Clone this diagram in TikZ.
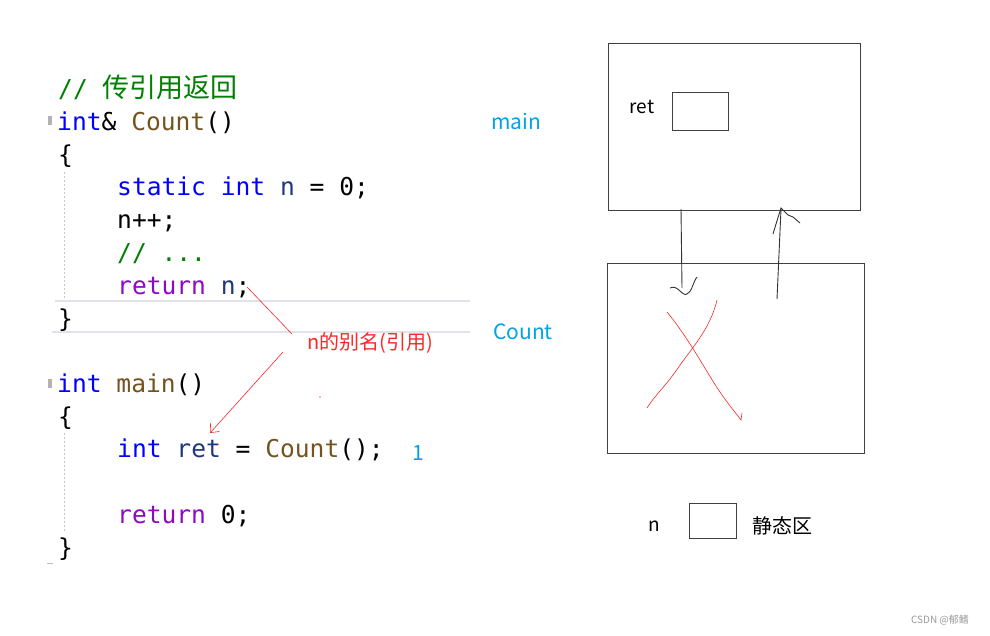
\documentclass[tikz,border=0pt]{standalone}
\usepackage{fontspec}
\setmonofont{DejaVu Sans Mono}
\newfontfamily\cjk{Noto Sans CJK SC}
\usepackage{tikz}
\usetikzlibrary{arrows.meta}

\definecolor{kwblue}{RGB}{0,0,255}
\definecolor{fnbrown}{RGB}{116,83,31}
\definecolor{varblue}{RGB}{31,55,127}
\definecolor{retpurple}{RGB}{143,8,196}
\definecolor{cmtgreen}{RGB}{0,128,0}
\definecolor{tagblue}{RGB}{0,162,232}
\definecolor{notered}{RGB}{250,40,40}
\definecolor{hlgray}{RGB}{226,226,236}

\newcommand{\kw}[1]{\textcolor{kwblue}{#1}}
\newcommand{\fn}[1]{\textcolor{fnbrown}{#1}}
\newcommand{\var}[1]{\textcolor{varblue}{#1}}
\newcommand{\rt}[1]{\textcolor{retpurple}{#1}}

\begin{document}
\begin{tikzpicture}[x=1pt,y=-1pt,
  code/.style={anchor=base west, inner sep=0pt, font=\ttfamily\fontsize{24.6}{28}\selectfont},
  tag/.style={text=tagblue, inner sep=0pt, font=\cjk\fontsize{21}{24}\selectfont},
  label/.style={inner sep=0pt, font=\cjk\fontsize{19}{22}\selectfont},
  frame/.style={draw=black!75, line width=1pt, inner sep=0pt},
  pen/.style={black!80, line width=0.9pt},
  redpen/.style={notered, line width=0.6pt},
  guide/.style={gray!45, line width=0.8pt, dash pattern=on 2pt off 2pt}]
\useasboundingbox[fill=white] (0,0) rectangle (990,635);

% editor decorations
\draw[hlgray, line width=1.6pt] (55,301) -- (470,301);
\draw[hlgray, line width=1.6pt] (52,332) -- (470,332);
\draw[guide] (64,172) -- (64,298);
\draw[guide] (64,433) -- (64,532);
\fill[gray!60] (48,116) rectangle (52,125);
\fill[gray!60] (48,379) rectangle (52,388);
\draw[gray!50] (47,563) -- (53,563);

% code
\node[code] (cmt) at (58,97) {\textcolor{cmtgreen}{// {\cjk\fontsize{27}{28}\selectfont 传引用返回}}};
\node[code] (cnthead) at (57,130) {\kw{int}\& \fn{Count}()};
\node[code] (cntopen) at (58,163) {\{};
\node[code] (static) at (117,195) {\kw{static} \kw{int} \var{n} = 0;};
\node[code] (incr) at (117,228) {n++;};
\node[code] (dots) at (117,261) {\textcolor{cmtgreen}{// ...}};
\node[code] (retn) at (117,294) {\rt{return} \var{n};};
\node[code] (cntclose) at (58,327) {\}};
\node[code] (mainhead) at (57,392) {\kw{int} \fn{main}()};
\node[code] (mainopen) at (58,425) {\{};
\node[code] (call) at (117,457) {\kw{int} \var{ret} = \fn{Count}();};
\node[code] (ret0) at (117,523) {\rt{return} 0;};
\node[code] (mainclose) at (58,556) {\}};

% labels
\node[tag] (lmain) at (516,121) {main};
\node[tag] (lcount) at (523,332) {Count};
\node[tag] (lone) at (418,453) {1};
\node[label, text=notered, font=\cjk\fontsize{20}{22}\selectfont] (alias) at (370,343) {n的别名(引用)};

% annotation
\coordinate (from-n) at (247,287);
\coordinate (alias-top) at (292,334);
\coordinate (alias-bot) at (283,352);
\coordinate (at-ret) at (210,433);
\draw[redpen] (from-n) -- (alias-top);
\draw[redpen, -{Straight Barb[length=7pt, width=12pt]}] (alias-bot) -- (at-ret);
\fill[notered!70] (320,397) circle (0.8);

% stack frames
\node[frame, minimum width=252pt, minimum height=167pt] (mainframe) at (734,126.5) {};
\node[label] (retname) at (642,107) {ret};
\node[frame, minimum width=56pt, minimum height=38pt] (retbox) at (700,111) {};
\node[frame, minimum width=257pt, minimum height=190pt] (countframe) at (735.5,358) {};

% call and return
\coordinate (call-top) at (681,209);
\coordinate (call-end) at (682,288);
\draw[pen] (call-top) -- (call-end);
\draw[pen] (670,288) .. controls (678,284) and (682,297) .. (687,294) .. controls (692,292) and (693,282) .. (697,277);
\coordinate (back-start) at (777,299);
\coordinate (back-end) at (781,209);
\draw[pen] (back-start) -- (back-end);
\draw[pen] (773,234) -- (776,224) -- (781,208) -- (788,215) -- (793,217) -- (800,223);

% crossed out
\draw[redpen] (667,312) .. controls (690,340) and (705,370) .. (720,392) .. controls (728,404) and (735,412) .. (741,420) -- (742,413);
\draw[redpen] (717,300) .. controls (710,330) and (690,350) .. (678,368) .. controls (665,387) and (655,395) .. (647,408);

% static area
\node[label] (nname) at (654,526) {n};
\node[frame, minimum width=47pt, minimum height=35pt] (nbox) at (712.5,520.5) {};
\node[label, font=\cjk\fontsize{20}{22}\selectfont] (staticarea) at (782,526) {静态区};

\node[inner sep=0pt, text=gray!80, font=\cjk\fontsize{10}{12}\selectfont] (mark) at (940,620) {CSDN @郁鳍};
\end{tikzpicture}
\end{document}
